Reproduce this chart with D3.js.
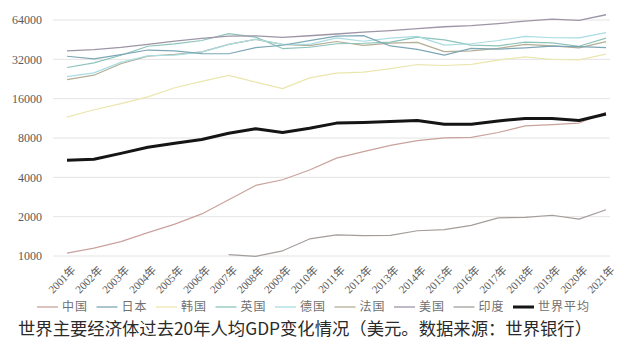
<!DOCTYPE html>
<html>
<head>
<meta charset="utf-8">
<script src="https://cdn.jsdelivr.net/npm/d3@7"></script>
<style>
html,body{margin:0;padding:0;background:#fff;}
svg{display:block;}
</style>
</head>
<body>
<svg id="chart" width="628" height="355"></svg>
<script>
const years = ["2001年","2002年","2003年","2004年","2005年","2006年","2007年","2008年","2009年","2010年","2011年","2012年","2013年","2014年","2015年","2016年","2017年","2018年","2019年","2020年","2021年"];
const yTicks = [1000, 2000, 4000, 8000, 16000, 32000, 64000];

const china   = [1053, 1149, 1289, 1509, 1753, 2099, 2694, 3468, 3832, 4550, 5614, 6301, 7020, 7636, 8016, 8094, 8817, 9905, 10144, 10409, 12556];
const japan   = [33800, 32300, 34800, 37700, 37200, 35400, 35300, 39300, 41000, 44500, 48200, 48600, 40500, 38100, 34500, 38800, 38300, 39200, 40400, 40000, 39300];
const korea   = [11560, 13170, 14670, 16500, 19400, 21700, 24100, 21400, 19100, 23100, 25100, 25500, 27200, 29200, 28700, 29300, 31600, 33400, 31900, 31700, 35100];
const uk      = [27700, 30100, 34400, 40300, 42000, 44600, 50400, 47300, 38700, 39600, 42100, 42500, 43400, 47400, 45100, 41100, 40600, 43300, 42700, 40300, 46500];
const germany = [23600, 25200, 30300, 34100, 34500, 36300, 41600, 45600, 41700, 41600, 46700, 44000, 46500, 48000, 41100, 42100, 44600, 47900, 46800, 46700, 51200];
const france  = [22400, 24200, 29600, 33900, 34900, 36500, 41600, 45500, 41600, 40700, 43800, 40900, 42600, 43100, 36700, 37100, 38800, 41600, 40500, 39200, 43700];
const usa     = [37100, 38000, 39500, 41700, 44100, 46300, 48100, 48400, 47100, 48500, 50000, 51600, 53100, 55000, 56800, 57900, 60000, 62800, 65100, 63500, 70200];
const india   = [null, null, null, null, null, null, 1023, 993, 1096, 1351, 1450, 1434, 1438, 1560, 1590, 1714, 1958, 1974, 2050, 1913, 2257];
const world   = [5400, 5500, 6100, 6800, 7300, 7800, 8700, 9400, 8800, 9500, 10400, 10500, 10700, 10900, 10200, 10200, 10800, 11300, 11300, 10900, 12200];

const seriesNames = ["中国","日本","韩国","英国","德国","法国","美国","印度","世界平均"];
const seriesValues = [china, japan, korea, uk, germany, france, usa, india, world];
const seriesColors = ["#c9a29d","#7ea7b6","#ebe6ae","#8cc3ba","#a9dce2","#b3ae95","#9d95a6","#a49e9b","#151515"];
const seriesWidths = [1.2,1.2,1.2,1.2,1.2,1.2,1.3,1.2,3];
const caption = "世界主要经济体过去20年人均GDP变化情况（美元。数据来源：世界银行）";

const svg = d3.select("#chart");

const x = d3.scalePoint().domain(years).range([67, 606]);
const y = d3.scaleLog().base(2).domain([1000, 64000]).range([256, 20]);

// gridlines
svg.append("g").selectAll("line").data(yTicks).join("line")
  .attr("x1", 53).attr("x2", 610)
  .attr("y1", d => y(d)).attr("y2", d => y(d))
  .attr("stroke", "#e4e4e4").attr("stroke-width", 1);

// y axis labels
const yAxis = d3.axisLeft(y).tickValues(yTicks).tickFormat(d3.format("d")).tickSize(0).tickPadding(0);
const gy = svg.append("g").attr("transform", "translate(42,0)").call(yAxis);
gy.select(".domain").remove();
gy.selectAll("text").attr("font-family", "'Liberation Serif', serif").attr("font-size", 12).attr("fill", "#5a5a5a");

// x axis labels
const xAxis = d3.axisBottom(x).tickSize(0).tickPadding(0);
const gx = svg.append("g").attr("transform", "translate(0,262)").call(xAxis);
gx.select(".domain").remove();
gx.selectAll("text")
  .attr("font-family", "'Liberation Serif','Noto Sans CJK SC', serif")
  .attr("font-size", 11).attr("fill", "#5a5a5a")
  .attr("text-anchor", "end")
  .attr("dy", "0.35em")
  .attr("transform", "translate(6,6) rotate(-45)");

// lines
const line = d3.line()
  .defined(d => d.v != null)
  .x(d => x(d.year))
  .y(d => y(d.v));

const order = [5, 3, 4, 2, 1, 6, 7, 0, 8];
order.forEach(i => {
  const data = years.map((yr, j) => ({year: yr, v: seriesValues[i][j]}));
  svg.append("path").datum(data)
    .attr("fill", "none")
    .attr("stroke", seriesColors[i])
    .attr("stroke-width", seriesWidths[i])
    .attr("stroke-linejoin", "round")
    .attr("d", line);
});

// legend
const legendX = d3.scalePoint().domain(seriesNames).range([37, 513]);
const lg = svg.append("g").selectAll("g").data(seriesNames).join("g")
  .attr("transform", d => `translate(${legendX(d)},307)`);
lg.append("line").attr("x1", 0).attr("x2", 21).attr("y1", 0).attr("y2", 0)
  .attr("stroke", (d, i) => seriesColors[i])
  .attr("stroke-width", (d, i) => i === 8 ? 3 : 1.3);
lg.append("text").attr("x", 25).attr("y", 0).attr("dy", "0.36em")
  .attr("font-family", "'Noto Sans CJK SC', sans-serif")
  .attr("font-size", 12).attr("letter-spacing", 1)
  .attr("fill", "#707070")
  .text(d => d);

// caption
svg.append("text")
  .attr("x", 18).attr("y", 335)
  .attr("font-family", "'Noto Sans CJK SC', sans-serif")
  .attr("font-size", 17)
  .attr("fill", "#2a2a2a")
  .attr("textLength", 574).attr("lengthAdjust", "spacingAndGlyphs")
  .text(caption);
</script>
</body>
</html>
